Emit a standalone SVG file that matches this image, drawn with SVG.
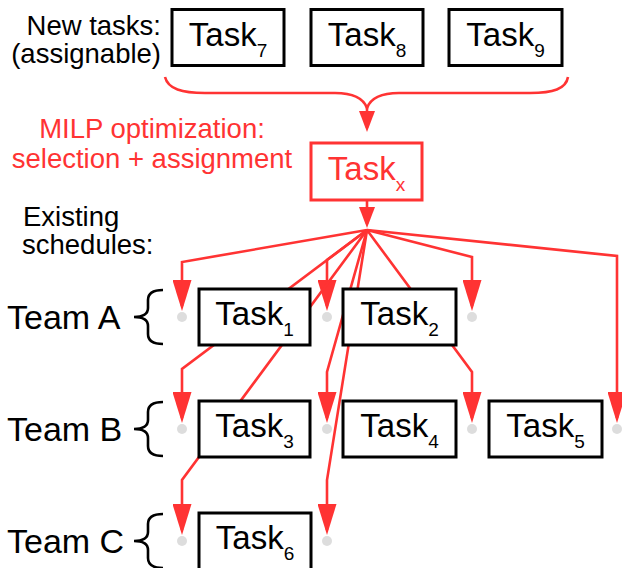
<svg xmlns="http://www.w3.org/2000/svg" width="622" height="568" viewBox="0 0 622 568">
<style>
.box{fill:#fff;stroke:#000;stroke-width:3}
.rbox{fill:#fff;stroke:#ff3333;stroke-width:3}
.t{font-family:"Liberation Sans",Arial,sans-serif;font-size:33px;fill:#000;text-anchor:middle}
.rt{font-family:"Liberation Sans",Arial,sans-serif;font-size:33px;fill:#ff3333;text-anchor:middle}
.lbl{font-family:"Liberation Sans",Arial,sans-serif;font-size:27.5px;fill:#000}
.rl{font-family:"Liberation Sans",Arial,sans-serif;font-size:27.5px;fill:#ff3333;text-anchor:middle}
.team{font-family:"Liberation Sans",Arial,sans-serif;font-size:34px;fill:#000}
.sub{font-size:19px}
.c{fill:none;stroke:#ff3333;stroke-width:2.6;stroke-linejoin:miter}
.dot{fill:#dddddd}
.br{fill:none;stroke:#000;stroke-width:2.6}
</style>
<defs>
<marker id="ah" markerUnits="userSpaceOnUse" viewBox="0 0 31 19" refX="26" refY="9.5" markerWidth="31" markerHeight="19" orient="auto">
<path d="M0,0 L31,9.5 L0,19 Z" fill="#ff3333"/>
</marker>
<marker id="ahs" markerUnits="userSpaceOnUse" viewBox="0 0 21 16" refX="17" refY="8" markerWidth="21" markerHeight="16" orient="auto">
<path d="M0,0 L21,8 L0,16 Z" fill="#ff3333"/>
</marker>
<path id="brace" d="M163,-27 Q148,-27 148,-17 L148,-9 Q148,0 134,0 Q148,0 148,9 L148,17 Q148,27 163,27"/>
</defs>

<g id="labels">
<text class="lbl" x="161" y="35" text-anchor="end">New tasks:</text>
<text class="lbl" x="161" y="63" text-anchor="end">(assignable)</text>
<text class="rl" x="152" y="138">MILP optimization:</text>
<text class="rl" x="152" y="168">selection + assignment</text>
<text class="lbl" x="23" y="226">Existing</text>
<text class="lbl" x="22" y="254">schedules:</text>
</g>

<g id="teams">
<text class="team" x="7" y="329">Team A</text>
<use href="#brace" class="br" transform="translate(0,317)"/>
<text class="team" x="7" y="441">Team B</text>
<use href="#brace" class="br" transform="translate(0,429)"/>
<text class="team" x="7" y="553">Team C</text>
<use href="#brace" class="br" transform="translate(0,541)"/>
</g>

<g id="dots">
<circle class="dot" cx="182" cy="317" r="5"/>
<circle class="dot" cx="327" cy="317" r="5"/>
<circle class="dot" cx="472" cy="317" r="5"/>
<circle class="dot" cx="182" cy="429" r="5"/>
<circle class="dot" cx="327" cy="429" r="5"/>
<circle class="dot" cx="472" cy="429" r="5"/>
<circle class="dot" cx="617" cy="429" r="5"/>
<circle class="dot" cx="182" cy="541" r="5"/>
<circle class="dot" cx="327" cy="541" r="5"/>
</g>

<g id="connectors">
<path class="c" d="M165,77 C168,89 182,93 205,93 L335,93 C355,93 364,100 367,108 C370,100 379,93 399,93 L530,93 C553,93 566,89 568,77"/>
<path class="c" d="M367,105 L367,128" marker-end="url(#ahs)"/>
<path class="c" d="M367,200 L367,224" marker-end="url(#ahs)"/>
<path class="c" d="M367,230 L182,262 L182,306" marker-end="url(#ah)"/>
<path class="c" d="M367,230 L327,260 L327,306" marker-end="url(#ah)"/>
<path class="c" d="M367,230 L472,257 L472,306" marker-end="url(#ah)"/>
<path class="c" d="M367,230 L617,256 L617,418" marker-end="url(#ah)"/>
<path class="c" d="M367,230 L182,369 L182,418" marker-end="url(#ah)"/>
<path class="c" d="M367,230 L327,372 L327,418" marker-end="url(#ah)"/>
<path class="c" d="M367,230 L472,372 L472,418" marker-end="url(#ah)"/>
<path class="c" d="M367,230 L182,480 L182,530" marker-end="url(#ah)"/>
<path class="c" d="M367,230 L327,480 L327,530" marker-end="url(#ah)"/>
</g>

<g id="task7"><rect class="box" x="172" y="9.5" width="112" height="56"/><text class="t" x="228" y="45.5">Task<tspan class="sub" dy="11">7</tspan></text></g>
<g id="task8"><rect class="box" x="311" y="9.5" width="112" height="56"/><text class="t" x="367" y="45.5">Task<tspan class="sub" dy="11">8</tspan></text></g>
<g id="task9"><rect class="box" x="449" y="9.5" width="113" height="56"/><text class="t" x="505.5" y="45.5">Task<tspan class="sub" dy="11">9</tspan></text></g>
<g id="taskx"><rect class="rbox" x="311" y="143" width="111" height="57"/><text class="rt" x="366.5" y="179.5">Task<tspan class="sub" dy="11">x</tspan></text></g>
<g id="task1"><rect class="box" x="199" y="289" width="111" height="56"/><text class="t" x="254.5" y="325">Task<tspan class="sub" dy="11">1</tspan></text></g>
<g id="task2"><rect class="box" x="343" y="289" width="113" height="56"/><text class="t" x="399.5" y="325">Task<tspan class="sub" dy="11">2</tspan></text></g>
<g id="task3"><rect class="box" x="199" y="401" width="111" height="56"/><text class="t" x="254.5" y="437">Task<tspan class="sub" dy="11">3</tspan></text></g>
<g id="task4"><rect class="box" x="343" y="401" width="113" height="56"/><text class="t" x="399.5" y="437">Task<tspan class="sub" dy="11">4</tspan></text></g>
<g id="task5"><rect class="box" x="489" y="401" width="113" height="56"/><text class="t" x="545.5" y="437">Task<tspan class="sub" dy="11">5</tspan></text></g>
<g id="task6"><rect class="box" x="199" y="513" width="112" height="57"/><text class="t" x="255" y="549">Task<tspan class="sub" dy="11">6</tspan></text></g>
</svg>
